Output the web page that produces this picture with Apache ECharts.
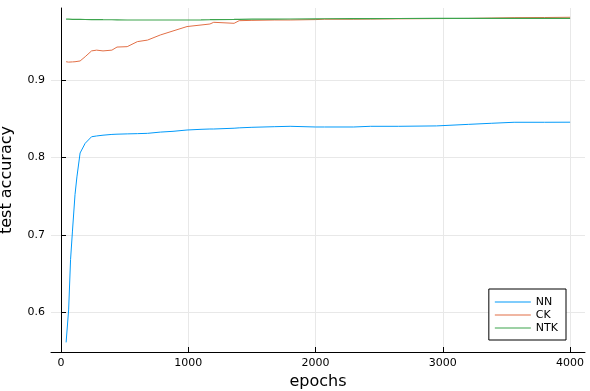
<!DOCTYPE html>
<html>
<head>
<meta charset="utf-8">
<script src="https://cdn.jsdelivr.net/npm/echarts@6/dist/echarts.min.js"></script>
<style>
  html, body { margin: 0; padding: 0; background: #fff; }
  #main { width: 590px; height: 391px; }
</style>
</head>
<body>
<div id="main"></div>
<script>
    // sampled epochs shared by all three curves
    var epochs = [40, 60, 75, 90, 110, 125, 150, 190, 240, 280, 330, 400, 440, 520, 600, 680, 780, 880,
        990, 1100, 1170, 1200, 1360, 1400, 1500, 1680, 1800, 2000, 2070, 2300, 2430, 2650, 2950, 3200,
        3380, 3560, 3800, 4000];

    var nnAcc = [0.561, 0.603, 0.668, 0.705, 0.752, 0.775, 0.806, 0.8185, 0.827, 0.828, 0.829, 0.830,
        0.8303, 0.8307, 0.831, 0.8314, 0.833, 0.834, 0.8357, 0.8366, 0.837, 0.837, 0.838, 0.8385,
        0.8392, 0.840, 0.8405, 0.8396, 0.8396, 0.8396, 0.8405, 0.8405, 0.841, 0.843, 0.8444, 0.8457,
        0.8457, 0.8458];

    var ckAcc = [0.924, 0.9235, 0.9235, 0.9238, 0.924, 0.924, 0.925, 0.9305, 0.938, 0.939, 0.938, 0.939,
        0.943, 0.9435, 0.950, 0.952, 0.9586, 0.9638, 0.9695, 0.9715, 0.9728, 0.975, 0.9737, 0.9771,
        0.9775, 0.978, 0.978, 0.9785, 0.979, 0.979, 0.9792, 0.9795, 0.9798, 0.980, 0.9805, 0.981,
        0.9812, 0.9815];

    var ntkAcc = [0.979, 0.979, 0.979, 0.9789, 0.9789, 0.9788, 0.9788, 0.9786, 0.9785, 0.9785, 0.9784,
        0.9783, 0.9782, 0.978, 0.978, 0.978, 0.978, 0.978, 0.978, 0.9782, 0.9784, 0.9785, 0.9787,
        0.9788, 0.979, 0.9792, 0.9793, 0.9795, 0.9796, 0.9797, 0.9798, 0.9799, 0.980, 0.980, 0.980,
        0.980, 0.980, 0.980];

    var xTicks = [0, 1000, 2000, 3000, 4000];
    var yTicks = [0.6, 0.7, 0.8, 0.9];

    function pairs(ys) {
        return epochs.map(function (x, i) { return [x, ys[i]]; });
    }

    var chartDom = document.getElementById('main');
    var myChart = echarts.init(chartDom);
    var font = 'DejaVu Sans';

    var option = {
        animation: false,
        textStyle: { fontFamily: font },
        grid: { left: 51, right: 5, top: 8, bottom: 39, outerBoundsMode: 'none', containLabel: false },
        legend: {
            orient: 'vertical',
            right: 24,
            bottom: 51,
            padding: [7, 8, 6, 6],
            itemGap: 1,
            itemWidth: 36,
            itemHeight: 1,
            icon: 'rect',
            borderColor: '#000',
            borderWidth: 1,
            borderRadius: 0,
            backgroundColor: '#fff',
            textStyle: { fontSize: 11, color: '#000', fontFamily: font, lineHeight: 12 },
            data: ['NN', 'CK', 'NTK']
        },
        xAxis: {
            type: 'value',
            min: -78.6,
            max: 4117,
            name: 'epochs',
            nameLocation: 'middle',
            nameGap: 22,
            nameTextStyle: { fontSize: 16, color: '#000' },
            axisLine: { lineStyle: { color: '#000', width: 1 } },
            axisTick: { inside: true, length: 5, lineStyle: { color: '#000' }, customValues: xTicks },
            axisLabel: {
                fontSize: 11, color: '#000', margin: 6, customValues: xTicks,
                formatter: function (v) { return String(v); }
            },
            splitLine: { show: true, lineStyle: { color: '#e8e8e8', width: 1 } }
        },
        yAxis: {
            type: 'value',
            min: 0.5486,
            max: 0.9935,
            name: 'test accuracy',
            nameLocation: 'middle',
            nameGap: 36,
            nameTextStyle: { fontSize: 16, color: '#000' },
            axisLine: { show: true, lineStyle: { color: '#000', width: 1 } },
            axisTick: { show: true, inside: true, length: 5, lineStyle: { color: '#000' }, customValues: yTicks },
            axisLabel: {
                fontSize: 11, color: '#000', margin: 6, customValues: yTicks,
                formatter: function (v) { return v.toFixed(1); }
            },
            splitLine: { show: true, lineStyle: { color: '#e8e8e8', width: 1 } }
        },
        series: [
            {
                name: 'NN', type: 'line', symbol: 'none', data: pairs(nnAcc),
                itemStyle: { color: '#009AFA' }, lineStyle: { color: '#009AFA', width: 1 }
            },
            {
                name: 'CK', type: 'line', symbol: 'none', data: pairs(ckAcc),
                itemStyle: { color: '#E26F46' }, lineStyle: { color: '#E26F46', width: 1 }
            },
            {
                name: 'NTK', type: 'line', symbol: 'none', data: pairs(ntkAcc),
                itemStyle: { color: '#3DA44D' }, lineStyle: { color: '#3DA44D', width: 1.2 }
            }
        ]
    };

    myChart.setOption(option);
</script>
</body>
</html>
